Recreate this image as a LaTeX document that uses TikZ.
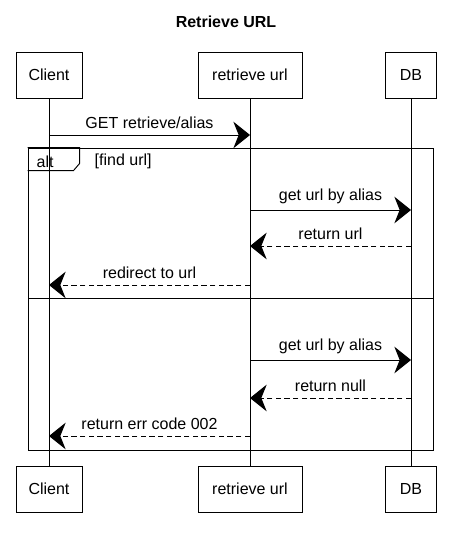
\documentclass[tikz,border=0pt]{standalone}
\usepackage{fontspec}
\setmainfont{Liberation Sans}
\usetikzlibrary{arrows.meta,positioning}

\tikzset{
  actor/.style={draw, line width=0.7pt, minimum height=34.5pt, font=\fontsize{12}{14}\selectfont},
  lifeline/.style={line width=0.6pt},
  call/.style={line width=0.7pt, -{Stealth[length=12.5pt,width=20pt,inset=4pt]}},
  reply/.style={call, dash pattern=on 4pt off 2.5pt},
  frame/.style={draw, line width=0.7pt},
  msgtext/.style={above=1pt, font=\fontsize{12}{14}\selectfont}
}

\begin{document}
\begin{tikzpicture}[x=0.75pt,y=0.75pt,yscale=-1,xscale=1]
		\useasboundingbox (0,0) rectangle (451,535);
		
		% Title
		\node[font=\bfseries\fontsize{12}{14}\selectfont] (title) at (226,22) {Retrieve URL};
		
		% Participants, top and bottom
		\node[actor, minimum width=49.5pt] (clientTop) at (49,75) {Client};
		\node[actor, minimum width=78pt] (urlTop) at (250,75) {retrieve url};
		\node[actor, minimum width=38pt] (dbTop) at (411,75) {DB};
		\node[actor, minimum width=49.5pt] (clientBot) at (49,489) {Client};
		\node[actor, minimum width=78pt] (urlBot) at (250,489) {retrieve url};
		\node[actor, minimum width=38pt] (dbBot) at (411,489) {DB};
		
		% Lifelines
		\foreach \who in {client,url,db}
		\draw[lifeline] (\who Top) -- (\who Bot);
		
		% Alt frame
		\node[frame, minimum width=303.75pt, minimum height=226.5pt, inner sep=0pt] (alt) at (230.5,299) {};
		\draw[frame] (alt.north west) -- ++(52,0) -- ++(0,16) -- ++(-6,7) -- ++(-46,0);
		\node[anchor=west, font=\fontsize{12}{14}\selectfont] (altlabel) at (32,161.5) {alt};
		\node[anchor=west, font=\fontsize{12}{14}\selectfont] (guard) at (90,161.5) {[find url]};
		\coordinate (sepL) at (28,298);
		\coordinate (sepR) at (433,298);
		\draw[frame] (sepL) -- (sepR);
		
		% Messages
		\foreach \y/\src/\dst/\txt/\kind in {
			135/client/url/{GET retrieve/alias}/call,
			210/url/db/{get url by alias}/call,
			246/db/url/{return url}/reply,
			285/url/client/{redirect to url}/reply,
			360/url/db/{get url by alias}/call,
			398/db/url/{return null}/reply,
			436/url/client/{return err code 002}/reply}
		\draw[\kind] (\src Top |- 0,\y) -- node[msgtext] {\txt} (\dst Top |- 0,\y);
	\end{tikzpicture}
\end{document}
